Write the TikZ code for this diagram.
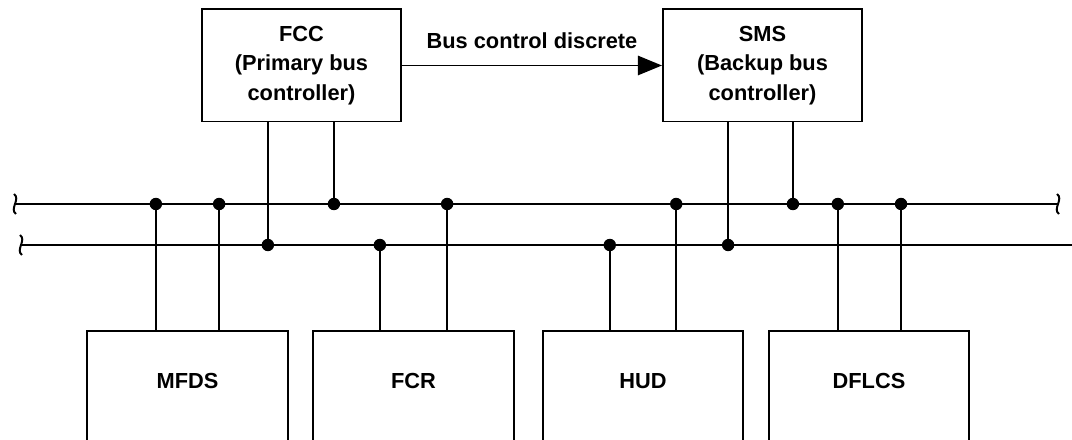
\documentclass[tikz,border=0pt]{standalone}
\usepackage{fontspec}
\setmainfont{Liberation Sans}
\usetikzlibrary{arrows.meta}

\tikzset{
  wire/.style={line width=1.4pt},
  ctlbox/.style={draw, wire, minimum width=4.975cm, minimum height=2.8cm, align=center, inner sep=0pt},
  lrubox/.style={draw, wire, anchor=north, minimum width=5cm, inner sep=0pt, text height=1.45cm, text depth=2.05cm},
  junc/.style={circle, fill, inner sep=0pt, minimum size=0.31cm},
  brk/.pic={\draw[wire] (-1,10) .. controls (6,5) and (-6,-5) .. (1,-10);},
}

\begin{document}
\begin{tikzpicture}[x=0.025cm, y=0.025cm, font=\fontsize{15.5}{21}\selectfont\bfseries]
    \clip (0,0) rectangle (1072,440);
    \useasboundingbox (0,0) rectangle (1072,440);
    % Controleurs
    \node[ctlbox] (fcc) at (301.5,374.5) {FCC\\(Primary bus\\controller)};
    \node[ctlbox] (sms) at (762.5,374.5) {SMS\\(Backup bus\\controller)};
    \draw[wire, -{Triangle[length=0.6cm, width=0.48cm]}] (fcc) -- node[above=0.4cm, inner sep=0pt] (bcd) {Bus control discrete} (sms);
    % Bus
    \coordinate (a1) at (15,236);
    \coordinate (a2) at (1058,236);
    \coordinate (b1) at (21,195);
    \coordinate (b2) at (1072,195);
    \draw[wire] (a1) -- (a2);
    \draw[wire] (b1) -- (b2);
    \pic at (a1) {brk};
    \pic at (a2) {brk};
    \pic at (b1) {brk};
    % Equipements
    \node[lrubox] (mfds) at (187.5,110) {MFDS};
    \node[lrubox] (fcr) at (413.5,110) {FCR};
    \node[lrubox] (hud) at (643,110) {HUD};
    \node[lrubox] (dflcs) at (869,110) {DFLCS};
    % Liaisons
    \foreach \lru/\dx/\bus in {fcc.south/-0.84/b1, fcc.south/0.81/a1,
        sms.south/-0.86/b1, sms.south/0.76/a1,
        mfds.north/-0.79/a1, mfds.north/0.79/a1,
        fcr.north/-0.84/b1, fcr.north/0.84/a1,
        hud.north/-0.83/b1, hud.north/0.83/a1,
        dflcs.north/-0.78/a1, dflcs.north/0.8/a1}
      \draw[wire] ([xshift=\dx cm]\lru) -- ([xshift=\dx cm]\lru |- \bus) node[junc] {};
\end{tikzpicture}
\end{document}
